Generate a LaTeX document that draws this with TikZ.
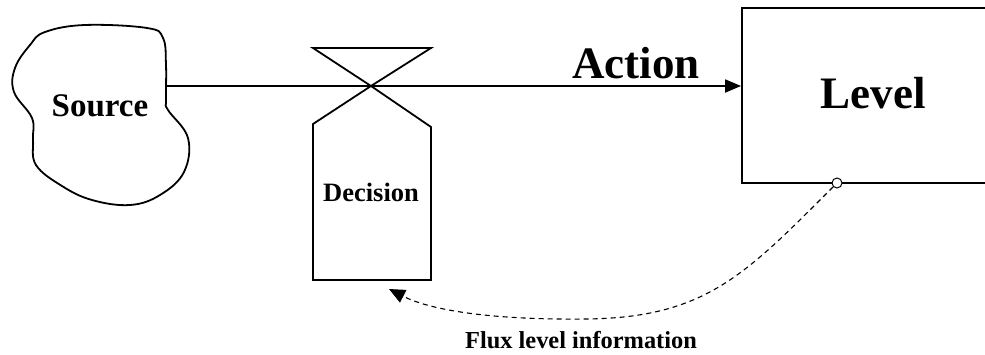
\documentclass[tikz,border=0pt]{standalone}
\usepackage{fontspec}
\setmainfont{Liberation Serif}
\usetikzlibrary{arrows.meta}
\tikzset{
  lbl/.style={font=\bfseries, inner sep=0pt},
  thick line/.style={line width=1.8pt},
  tip/.style={-{Triangle[length=16pt,width=13pt]}},
}
\begin{document}
\begin{tikzpicture}[x=1pt,y=-1pt]
\useasboundingbox (0,0) rectangle (985,354);
% Source cloud
\draw[thick line] plot[smooth cycle, tension=0.65] coordinates {
 (45,32) (85,25) (147,28) (163,38) (166,65) (166,100) (168,110) (188,138) (184,172)
 (160,195) (130,205) (92,200) (62,186) (36,165) (33,140) (32,118) (14,92) (15,68) (30,45)};
\node[lbl, font=\bfseries\fontsize{33}{38}\selectfont] (src) at (100,106) {Source};
\coordinate (srcR) at (167,86);
% Level box
\node[draw, thick line, minimum width=258pt, minimum height=175pt, inner sep=0pt] (box) at (871,95.5) {};
\node[lbl, font=\bfseries\fontsize{45}{50}\selectfont] (lvl) at (873,93) {Level};
% valve / decision
\coordinate (x) at (371,86);
\draw[thick line] (313,48) -- (431,48) -- (x) -- (313,124) -- (313,280) -- (431,280) -- (431,127) -- (x) -- cycle;
\node[lbl, font=\bfseries\fontsize{26.5}{30}\selectfont] (dec) at (371,192) {Decision};
% main flow
\draw[thick line, tip] (srcR) -- (box.west |- srcR);
\node[lbl, font=\bfseries\fontsize{45}{50}\selectfont] (act) at (636,63) {Action};
% information link
\node[draw, circle, line width=1pt, fill=white, minimum size=10pt, inner sep=0pt] (c) at (837,183) {};
\coordinate (fb) at (389,289);
\draw[line width=1.1pt, dashed, dash pattern=on 5pt off 4pt, -{Triangle[length=16pt,width=14pt]}]
  (c) .. controls (745,275) and (705,318) .. (585,319) .. controls (490,320) and (430,310) .. (fb);
\node[lbl, font=\bfseries\fontsize{24.4}{28}\selectfont] (flux) at (581,340) {Flux level information};
\end{tikzpicture}
\end{document}
